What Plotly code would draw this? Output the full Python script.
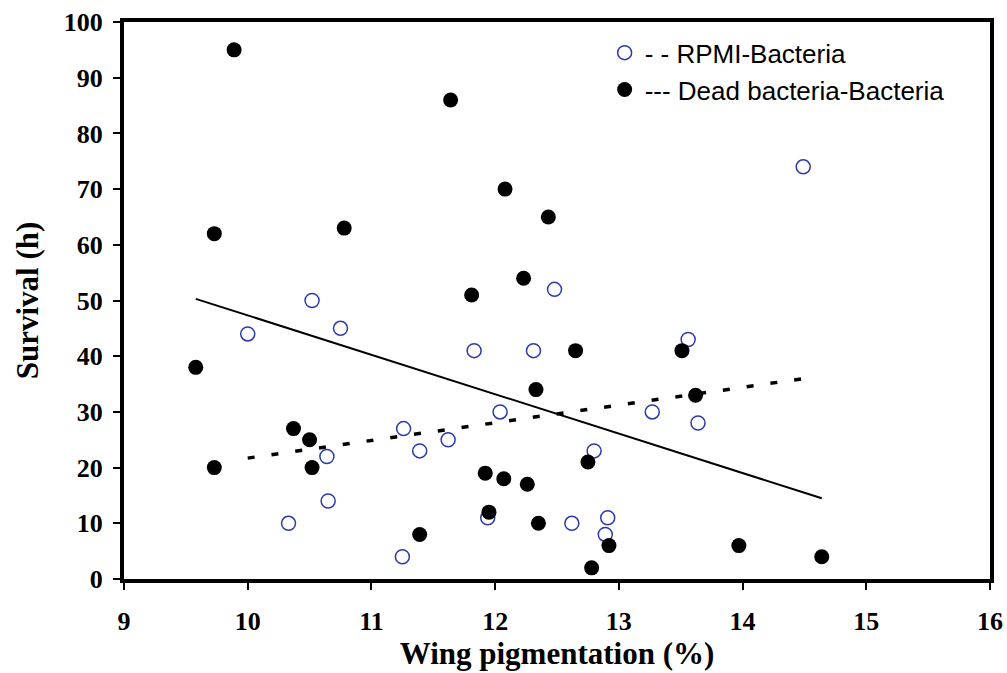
import plotly.graph_objects as go

# RPMI-Bacteria (open circles)
rpmi_x = [10.52, 10.0, 10.75, 11.83, 12.31, 12.04, 11.26, 11.62, 11.39, 10.64, 10.65, 10.33,
          11.25, 11.94, 12.62, 13.56, 13.27, 13.64, 12.80, 12.91, 12.89, 14.49, 12.48]
rpmi_y = [50, 44, 45, 41, 41, 30, 27, 25, 23, 22, 14, 10,
          4, 11, 10, 43, 30, 28, 23, 11, 8, 74, 52]

# Dead bacteria-Bacteria (filled circles)
dead_x = [9.89, 11.64, 9.73, 10.78, 12.08, 12.43, 12.23, 11.81, 9.58, 9.73, 10.37, 10.50,
          10.52, 11.39, 11.92, 12.07, 12.26, 11.95, 12.35, 12.33, 12.65, 13.51, 13.62, 12.75,
          12.92, 12.78, 13.97, 14.64]
dead_y = [95, 86, 62, 63, 70, 65, 54, 51, 38, 20, 27, 25,
          20, 8, 19, 18, 17, 12, 10, 34, 41, 41, 33, 21,
          6, 2, 6, 4]

# Trend lines
rpmi_trend_x = [10.0, 14.5]
rpmi_trend_y = [21.7, 36.0]
dead_trend_x = [9.58, 14.64]
dead_trend_y = [50.3, 14.5]

x_ticks = [9, 10, 11, 12, 13, 14, 15, 16]
y_ticks = [0, 10, 20, 30, 40, 50, 60, 70, 80, 90, 100]

serif = "Liberation Serif"
sans = "Liberation Sans"

fig = go.Figure()
fig.add_trace(go.Scatter(
    x=rpmi_x, y=rpmi_y, mode="markers", name="- - RPMI-Bacteria",
    marker=dict(symbol="circle", size=14, color="white",
                line=dict(color="#2b3bab", width=1.5)),
))
fig.add_trace(go.Scatter(
    x=dead_x, y=dead_y, mode="markers", name="--- Dead bacteria-Bacteria",
    marker=dict(symbol="circle", size=15, color="black",
                line=dict(color="black", width=0)),
))
fig.add_trace(go.Scatter(
    x=rpmi_trend_x, y=rpmi_trend_y, mode="lines", showlegend=False,
    line=dict(color="black", width=3.5, dash="7px,17px"),
))
fig.add_trace(go.Scatter(
    x=dead_trend_x, y=dead_trend_y, mode="lines", showlegend=False,
    line=dict(color="black", width=2),
))

axis_common = dict(
    showgrid=False, zeroline=False, showline=True, linecolor="black", linewidth=4,
    mirror=True, ticks="outside", ticklen=7, tickwidth=2, tickcolor="black",
    automargin=False,
    tickfont=dict(family=serif, size=26, color="black", weight="bold"),
)

fig.update_layout(
    width=1007, height=673,
    margin=dict(l=124, r=17, t=22, b=94),
    plot_bgcolor="white", paper_bgcolor="white",
    xaxis=dict(range=[9, 16], tickvals=x_ticks, ticklabelstandoff=9,
               title=dict(text="Wing pigmentation (%)", standoff=0,
                          font=dict(family=serif, size=31, color="black", weight="bold")),
               **axis_common),
    yaxis=dict(range=[0, 100], tickvals=y_ticks, ticklabelstandoff=5,
               title=dict(text="Survival (h)", standoff=17,
                          font=dict(family=serif, size=31, color="black", weight="bold")),
               **axis_common),
    legend=dict(x=0.555, y=0.987, xanchor="left", yanchor="top",
                bgcolor="rgba(0,0,0,0)",
                font=dict(family=sans, size=26, color="black")),
    showlegend=True,
)

fig.write_html("out.html",
               config={"displayModeBar": False},
               post_script="document.body.style.margin='0';document.body.style.overflow='hidden';")
